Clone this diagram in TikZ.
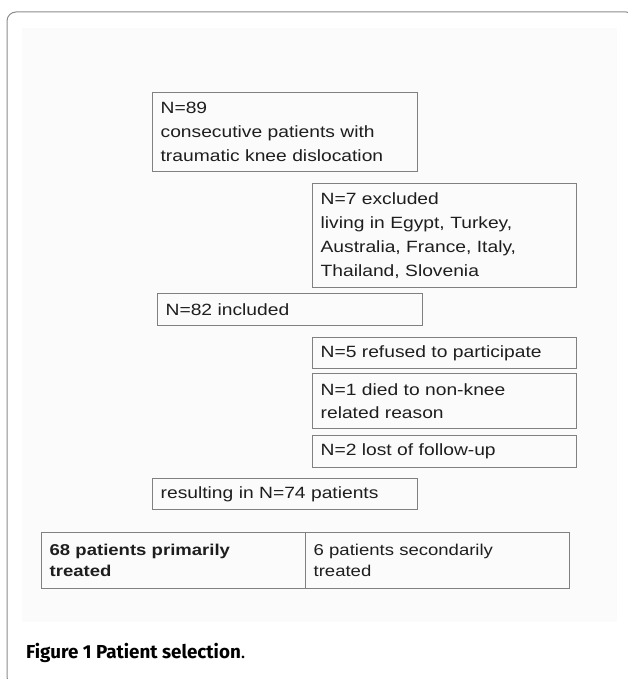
\documentclass[tikz,border=0pt]{standalone}
\usepackage{fontspec}
\newfontfamily\boxfont[FakeStretch=1.18]{Liberation Sans}
\newfontfamily\capfont{Fira Sans}
\definecolor{boxgray}{RGB}{128,128,128}
\definecolor{framegray}{RGB}{140,140,140}
\definecolor{txt}{RGB}{30,30,30}
\definecolor{panel}{RGB}{251,251,251}
\begin{document}
\begin{tikzpicture}[x=1bp,y=-1bp,
  stepbox/.style={draw=boxgray, line width=1.3bp, anchor=north west, inner xsep=8bp, inner ysep=0pt,
    align=left, text=txt, font=\boxfont\fontsize{16.3bp}{23.8bp}\selectfont},
  cellbox/.style={stepbox, font=\boxfont\fontsize{15.7bp}{21bp}\selectfont}]
\useasboundingbox (0,0) rectangle (628,679);
\begin{scope}
  \clip (0,0) rectangle (628,679);
  \draw[framegray, line width=1bp, rounded corners=9bp] (7,12) rectangle (635,686);
\end{scope}
\fill[panel] (22,28) rectangle (617,622);

\node[stepbox, text width=249bp, minimum height=79bp] (b1) at (152,92)
  {N=89\\consecutive patients with\\traumatic knee dislocation};
\node[stepbox, text width=248bp, minimum height=104bp] (b2) at (312,183)
  {N=7 excluded\\living in Egypt, Turkey,\\Australia, France, Italy,\\Thailand, Slovenia};
\node[stepbox, text width=249bp, minimum height=32bp] (b3) at (157,293)
  {N=82 included};
\node[stepbox, text width=248bp, minimum height=31bp] (b4) at (312,337)
  {N=5 refused to participate};
\node[stepbox, text width=248bp, minimum height=55bp, font=\boxfont\fontsize{16.3bp}{22.5bp}\selectfont] (b5) at (312,373)
  {N=1 died to non-knee\\related reason};
\node[stepbox, text width=248bp, minimum height=32bp] (b6) at (312,435)
  {N=2 lost of follow-up};
\node[stepbox, text width=249bp, minimum height=31bp] (b7) at (152,478)
  {resulting in N=74 patients};
\node[cellbox, text width=248bp, minimum height=56bp] (t1) at (41,532)
  {\bfseries 68 patients primarily\\\bfseries treated};
\node[cellbox, text width=248bp, minimum height=56bp] (t2) at (305,532)
  {6 patients secondarily\\treated};

\node[anchor=base west, inner sep=0pt, text=black] (cap) at (26,658)
  {\capfont\fontsize{18.8bp}{21bp}\selectfont\bfseries Figure 1 Patient selection\mdseries.};
\end{tikzpicture}
\end{document}
